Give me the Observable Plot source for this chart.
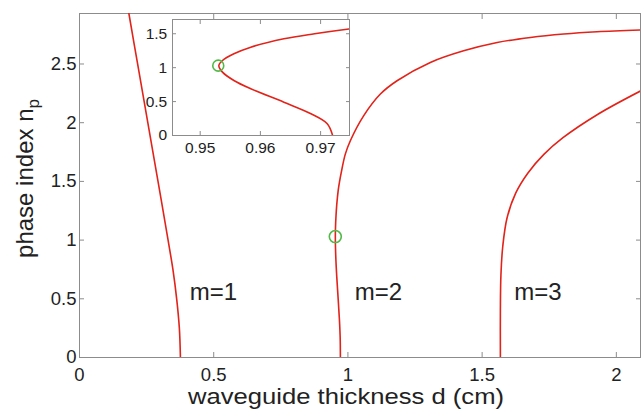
<!DOCTYPE html>
<html><head><meta charset="utf-8">
<script src="https://cdn.jsdelivr.net/npm/d3@7"></script>
<script src="https://cdn.jsdelivr.net/npm/@observablehq/plot@0.6"></script>
<style>
html,body{margin:0;padding:0;background:#fff;}
#chart{position:relative;width:641px;height:410px;overflow:hidden;}
#chart svg{position:absolute;}
</style></head><body><div id="chart"></div>
<script>
// ---- data ----
const m1X = [0.376, 0.372, 0.362, 0.348, 0.330, 0.2925, 0.2545, 0.2165, 0.184];
const m1Y = [0, 0.25, 0.50, 0.75, 1.00, 1.50, 2.00, 2.50, 2.93];

const m2X = [0.9720, 0.9711, 0.9684, 0.9639, 0.9584, 0.9556, 0.9537, 0.9531, 0.9537, 0.9556, 0.9584, 0.9639, 0.9690, 0.9747, 0.990, 1.009, 1.059, 1.121, 1.183, 1.307, 1.431, 1.556, 1.680, 1.804, 1.928, 2.09];
const m2Y = [0, 0.173, 0.32, 0.491, 0.689, 0.811, 0.934, 1.032, 1.106, 1.205, 1.302, 1.426, 1.50, 1.57, 1.73, 1.846, 2.06, 2.244, 2.357, 2.513, 2.612, 2.683, 2.726, 2.755, 2.774, 2.789];

const m3X = [1.568, 1.568, 1.570, 1.577, 1.593, 1.625, 1.670, 1.730, 1.800, 1.930, 2.09];
const m3Y = [0, 0.40, 0.70, 0.95, 1.19, 1.40, 1.57, 1.73, 1.87, 2.07, 2.27];

const markerX = [0.953];
const markerY = [1.03];

const modeLabels = ["m=1", "m=2", "m=3"];
const modeLabelX = [0.499, 1.114, 1.708];
const modeLabelY = [0.551, 0.551, 0.551];

const xTicks = [0, 0.5, 1, 1.5, 2];
const yTicks = [0, 0.5, 1, 1.5, 2, 2.5];
const insetXTicks = [0.95, 0.96, 0.97];
const insetYTicks = [0, 0.5, 1, 1.5];

const xLabel = "waveguide thickness d (cm)";
const yLabel = "phase index n";
const yLabelSub = "p";

// ---- build ----
const pts = (X, Y) => X.map((x, i) => ({x, y: Y[i]}));
const m1 = pts(m1X, m1Y), m2 = pts(m2X, m2Y), m3 = pts(m3X, m3Y);
const marker = pts(markerX, markerY);
const labels = modeLabels.map((t, i) => ({t, x: modeLabelX[i], y: modeLabelY[i]}));

const FONT = "Liberation Sans, Arial, Helvetica, sans-serif";
const RED = "#e2231a", GREEN = "#52b947", GRAY = "#8c8c8c", INK = "#222";
const fmt = d => String(d);
const curveOpts = {x: "x", y: "y", stroke: RED, strokeWidth: 1.6, curve: "catmull-rom", clip: true};

const main = Plot.plot({
  width: 641, height: 410,
  marginLeft: 79, marginRight: 1, marginTop: 13, marginBottom: 53,
  x: {domain: [0, 2.09]},
  y: {domain: [0, 2.93]},
  style: {fontFamily: FONT, background: "transparent", color: INK},
  marks: [
    Plot.axisX(xTicks, {anchor: "bottom", tickSize: -5, tickPadding: 15, fontSize: 18.5, tickFormat: fmt, label: null, stroke: GRAY, fill: INK}),
    Plot.axisX(xTicks, {anchor: "top", tickSize: -5, tickFormat: () => "", label: null, stroke: GRAY}),
    Plot.axisY(yTicks, {anchor: "left", tickSize: -5, tickPadding: 8, fontSize: 18.5, tickFormat: fmt, label: null, stroke: GRAY, fill: INK}),
    Plot.axisY(yTicks, {anchor: "right", tickSize: -5, tickFormat: () => "", label: null, stroke: GRAY}),
    Plot.frame({stroke: GRAY}),
    Plot.line(m1, curveOpts),
    Plot.line(m2, curveOpts),
    Plot.line(m3, curveOpts),
    Plot.dot(marker, {x: "x", y: "y", r: 6, stroke: GREEN, strokeWidth: 1.6, fill: "none"}),
    Plot.text(labels, {x: "x", y: "y", text: "t", fontSize: 24, fill: INK, textAnchor: "middle", lineAnchor: "middle"})
  ]
});

const sm = d3.select(main);
sm.append("text")
  .attr("x", 346).attr("y", 404)
  .attr("text-anchor", "middle").attr("font-size", 22.5).attr("fill", INK)
  .attr("textLength", 316).attr("lengthAdjust", "spacingAndGlyphs")
  .text(xLabel);
const yl = sm.append("text")
  .attr("transform", "translate(33,178.5) rotate(-90)")
  .attr("text-anchor", "middle").attr("font-size", 24).attr("fill", INK);
yl.append("tspan").text(yLabel);
yl.append("tspan").attr("font-size", 17).attr("dy", "0.35em").text(yLabelSub);

main.style.left = "0px";
main.style.top = "0px";

const inset = Plot.plot({
  width: 224, height: 146,
  marginLeft: 42, marginRight: 5, marginTop: 5, marginBottom: 25,
  x: {domain: [0.9454, 0.9748]},
  y: {domain: [0, 1.71]},
  style: {fontFamily: FONT, background: "transparent", color: INK},
  marks: [
    Plot.frame({fill: "white", stroke: "none"}),
    Plot.axisX(insetXTicks, {anchor: "bottom", tickSize: -4, tickPadding: 10.7, fontSize: 15.5, tickFormat: fmt, label: null, stroke: GRAY, fill: INK}),
    Plot.axisX(insetXTicks, {anchor: "top", tickSize: -4, tickFormat: () => "", label: null, stroke: GRAY}),
    Plot.axisY(insetYTicks, {anchor: "left", tickSize: -4, tickPadding: 9.3, fontSize: 15.5, tickFormat: fmt, label: null, stroke: GRAY, fill: INK}),
    Plot.axisY(insetYTicks, {anchor: "right", tickSize: -4, tickFormat: () => "", label: null, stroke: GRAY}),
    Plot.line(m2, curveOpts),
    Plot.dot(marker, {x: "x", y: "y", r: 5.5, stroke: GREEN, strokeWidth: 1.6, fill: "none"}),
    Plot.frame({stroke: GRAY})
  ]
});
inset.style.left = "130px";
inset.style.top = "14px";

const host = document.getElementById("chart");
host.appendChild(main);
host.appendChild(inset);
</script>
</body></html>
